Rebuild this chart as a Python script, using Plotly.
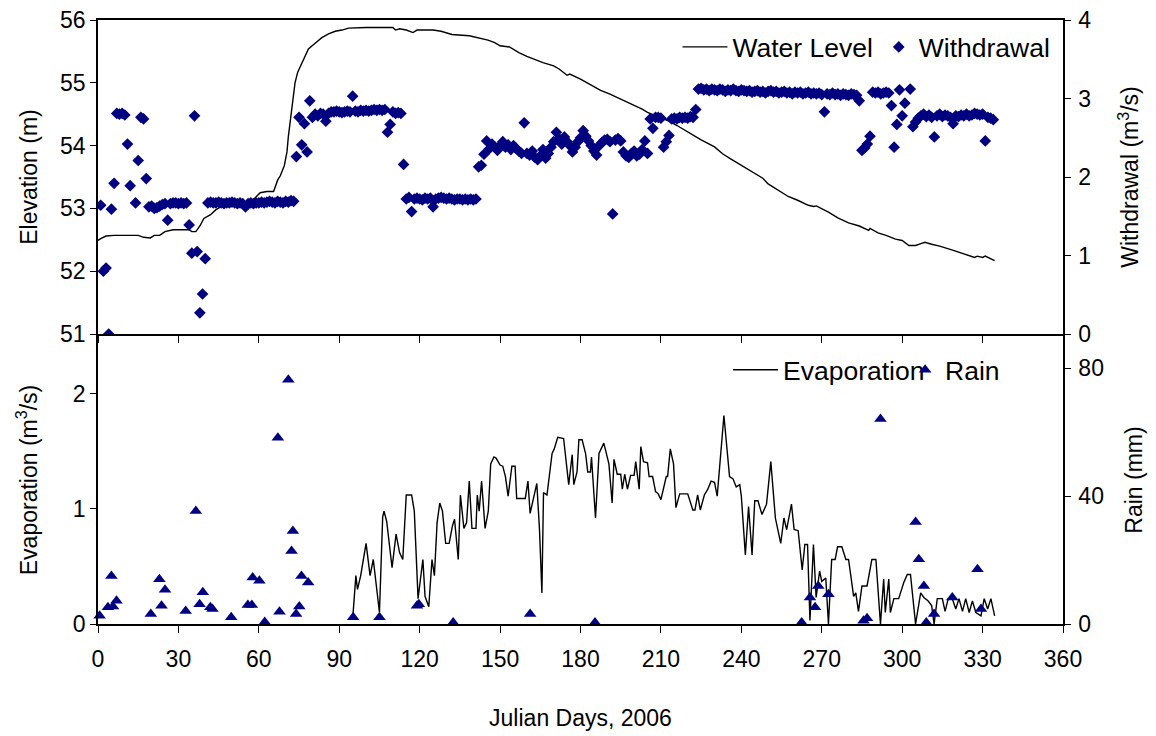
import plotly.graph_objects as go

# ---------------- data ----------------
level_days = [0, 1, 3, 6, 10, 15, 17, 19.5, 21, 23, 25, 28, 31, 34, 35, 36.5, 38, 39.5, 42, 44,
              46, 48, 52, 55, 57, 59, 60.5, 63, 65.5, 67, 68, 69.5, 70.5, 71, 72, 72.5, 73.5, 74.5, 76, 77,
              78.5, 81, 83.5, 86, 88.5, 91, 93.5, 100, 105, 110, 111, 112.5, 115, 117.5, 119, 125, 128, 132, 138.5, 142,
              145.5, 148, 150, 153.5, 157, 160, 163, 166, 170, 172, 175, 176, 180, 184, 187.5, 191, 194, 197, 200, 203,
              205, 209, 212.5, 216, 220, 225, 230, 233, 236, 240, 245, 248, 250, 254, 257.5, 261, 265, 267, 268, 272.5,
              276, 280, 284, 287.5, 288, 291, 294, 297.5, 300, 302.5, 305, 307, 308.5, 311, 314, 318.5, 322, 325, 327, 328,
              330, 331, 333, 334.5]
level_vals = [52.49, 52.52, 52.56, 52.57, 52.57, 52.57, 52.54, 52.53, 52.57, 52.57, 52.63, 52.66, 52.66, 52.66, 52.63, 52.63, 52.72, 52.84, 52.90, 52.98,
              53.03, 53.06, 53.06, 53.07, 53.10, 53.18, 53.25, 53.27, 53.27, 53.45, 53.52, 53.68, 53.90, 54.14, 54.50, 54.65, 55.00, 55.17, 55.32, 55.40,
              55.54, 55.63, 55.72, 55.78, 55.82, 55.84, 55.87, 55.88, 55.88, 55.88, 55.84, 55.86, 55.84, 55.80, 55.84, 55.84, 55.82, 55.77, 55.75, 55.72,
              55.68, 55.64, 55.59, 55.57, 55.48, 55.42, 55.37, 55.32, 55.27, 55.22, 55.12, 55.14, 55.06, 54.97, 54.88, 54.82, 54.76, 54.71, 54.64, 54.58,
              54.53, 54.46, 54.40, 54.32, 54.22, 54.09, 53.98, 53.87, 53.79, 53.69, 53.56, 53.48, 53.39, 53.29, 53.19, 53.13, 53.05, 53.03, 53.04, 52.94,
              52.85, 52.77, 52.72, 52.65, 52.68, 52.61, 52.57, 52.51, 52.49, 52.41, 52.41, 52.44, 52.46, 52.43, 52.40, 52.34, 52.29, 52.24, 52.22, 52.24,
              52.22, 52.24, 52.20, 52.17]

# daily withdrawal (m3/s), day 1 .. 334 (None = no reading)
withdrawal_days = list(range(1, 335))
withdrawal_vals = [
    1.64, 0.80, 0.84, 0.00, 1.59, 1.92, 2.81, 2.80, 2.81, 2.79,          # 1-10
    2.42, 1.89, None, 1.67, 2.21, 2.76, 2.74, 1.98, 1.62, 1.63,          # 11-20
    1.60, 1.61, 1.63, 1.65, 1.66, 1.45, 1.66, 1.67, 1.67, 1.66,          # 21-30
    1.67, 1.66, 1.67, 1.39, 1.03, 2.78, 1.05, 0.27, 0.51, 0.96,          # 31-40
    1.67, 1.68, 1.67, 1.67, 1.68, 1.67, 1.66, 1.67, 1.67, 1.68,          # 41-50
    1.67, 1.66, 1.67, 1.66, 1.62, 1.66, 1.67, 1.66, 1.67, 1.67,          # 51-60
    1.68, 1.67, 1.68, 1.69, 1.68, 1.67, 1.69, 1.68, 1.67, 1.69,          # 61-70
    1.68, 1.70, 1.69, 2.26, 2.76, 2.41, 2.68, 2.32, 2.97, 2.76,          # 71-80
    2.80, 2.78, 2.81, 2.80, 2.71, 2.81, 2.83, 2.83, 2.84, 2.83,          # 81-90
    2.82, 2.83, 2.84, 2.83, 3.03, 2.84, 2.83, 2.85, 2.84, 2.85,          # 91-100
    2.84, 2.85, 2.86, 2.85, 2.86, 2.85, 2.86, 2.57, 2.67, 2.83,          # 101-110
    2.81, 2.82, 2.81, 2.16, 1.72, 1.74, 1.56, 1.72, 1.73, 1.72,          # 111-120
    1.71, 1.73, 1.72, 1.73, 1.62, 1.72, 1.73, 1.74, 1.73, 1.72,          # 121-130
    1.73, 1.72, 1.71, 1.72, 1.72, 1.71, 1.72, 1.71, 1.72, 1.71,          # 131-140
    1.72, 2.13, 2.15, 2.29, 2.46, 2.36, 2.42, 2.38, 2.34, 2.40,          # 141-150
    2.45, 2.38, 2.41, 2.35, 2.40, 2.36, 2.33, 2.30, 2.69, 2.30,          # 151-160
    2.28, 2.33, 2.25, 2.22, 2.27, 2.35, 2.24, 2.30, 2.38, 2.45,          # 161-170
    2.57, 2.49, 2.42, 2.51, 2.45, 2.40, 2.32, 2.38, 2.45, 2.50,          # 171-180
    2.59, 2.52, 2.46, 2.40, 2.33, 2.28, 2.40, 2.44, 2.47, 2.48,          # 181-190
    2.45, 1.53, 2.47, 2.49, 2.46, 2.32, 2.27, 2.25, 2.30, 2.33,          # 191-200
    2.27, 2.29, 2.35, 2.46, 2.30, 2.74, 2.62, 2.76, 2.76, 2.75,          # 201-210
    2.38, 2.45, 2.53, 2.74, 2.75, 2.74, 2.76, 2.75, 2.76, 2.75,          # 211-220
    2.77, 2.76, 2.86, 3.12, 3.13, 3.11, 3.12, 3.10, 3.12, 3.11,          # 221-230
    3.10, 3.12, 3.11, 3.09, 3.11, 3.10, 3.12, 3.10, 3.09, 3.11,          # 231-240
    3.10, 3.09, 3.10, 3.08, 3.09, 3.10, 3.08, 3.09, 3.07, 3.09,          # 241-250
    3.10, 3.08, 3.09, 3.07, 3.08, 3.09, 3.07, 3.08, 3.06, 3.08,          # 251-260
    3.07, 3.08, 3.06, 3.07, 3.08, 3.06, 3.07, 3.06, 3.07, 3.05,          # 261-270
    2.83, 3.06, 3.05, 3.07, 3.05, 3.06, 3.04, 3.06, 3.05, 3.04,          # 271-280
    3.06, 3.05, 3.04, 2.97, 2.34, 2.37, 2.42, 2.52, 3.08, 3.07,          # 281-290
    3.08, 3.06, 3.07, 3.08, 3.07, 2.91, 2.38, 2.67, 3.11, 2.78,          # 291-300
    2.94, None, 3.12, 2.64, 2.70, 2.75, 2.78, 2.80, 2.77, 2.79,          # 301-310
    2.76, 2.51, 2.78, 2.80, 2.77, 2.79, 2.78, 2.76, 2.68, 2.78,          # 311-320
    2.77, 2.79, 2.78, 2.80, 2.78, 2.79, 2.81, 2.80, 2.79, 2.80,          # 321-330
    2.46, 2.76, 2.75, 2.73,                                              # 331-334
]

evap_days = [95, 96.2, 96.8, 98, 100, 101.5, 102.7, 105, 106.2, 106.7, 107.7, 109.7, 111.2, 112.5, 113.7, 115, 117, 118,
             119.4, 121.2, 122, 123.4, 124.6, 125.5, 126.5, 127.5, 128.5, 129.7, 131, 132.2, 133, 134.4, 135.2, 136.5,
             137.5, 138.5, 139.5, 141, 141.5, 142.2, 143.1, 144.4, 145.6, 146.5, 147.7, 148.5, 150, 151, 152, 153,
             154.4, 155.6, 156.2, 159.4, 160.4, 161.2, 163.7, 164.7, 165.6, 166.2, 167.5, 169.4, 170.2, 171.5, 173.7,
             175.6, 176.9, 177.5, 178.7, 179.4, 180.6, 181.9, 182.7, 183.7, 184.1, 185.6, 186.9, 188.7, 190.6, 191.8,
             192.5, 193.7, 195, 195.6, 196.5, 197.5, 198.7, 200, 200.6, 201.9, 202.5, 203.5, 205, 205.6, 206.9, 208,
             209, 210, 212, 212.5, 213.5, 214.7, 215.6, 217, 220, 221.9, 222.7, 223.7, 224.7, 226.2, 227.5, 228.7,
             230, 231, 233.5, 235.6, 236.9, 238.1, 239.4, 240, 241.5, 242.7, 244, 245, 246.2, 247.7, 249.4, 251,
             252.7, 254.7, 255.9, 256.9, 258.7, 259.7, 261.2, 262.7, 263.7, 264.7, 265.6, 266.9, 267.9, 269.2, 270,
             271.5, 272.5, 273.7, 275, 275.9, 277.5, 279, 280, 281.9, 282.7, 283.7, 285, 286.9, 288.7, 290.2, 291.9,
             293.1, 293.7, 295, 295.6, 296.9, 298.7, 300.6, 301.9, 303.1, 305, 306.9, 308.1, 309.7, 311, 311.9, 313.1,
             315, 316, 317.2, 318.7, 320, 321.2, 322.5, 323.7, 325, 326.2, 327.5, 329.4, 330.6, 331.9, 333.1, 334.5]
evap_vals = [0.04, 0.42, 0.30, 0.42, 0.70, 0.42, 0.56, 0.10, 0.93, 0.98, 0.89, 0.49, 0.78, 0.62, 0.56, 1.12, 1.12, 0.98,
             0.22, 0.56, 0.24, 0.15, 0.56, 0.42, 0.88, 1.05, 0.98, 0.70, 0.70, 0.85, 0.91, 0.56, 1.12, 0.83,
             0.88, 1.24, 0.83, 0.83, 1.12, 0.98, 1.24, 0.83, 0.98, 1.39, 1.45, 1.44, 1.38, 1.37, 1.28, 1.11,
             1.37, 1.37, 1.09, 1.09, 1.24, 0.96, 1.22, 0.82, 0.27, 1.14, 1.12, 1.48, 1.52, 1.62, 1.61,
             1.21, 1.47, 1.21, 1.32, 1.60, 1.60, 1.48, 1.32, 1.32, 1.45, 0.92, 1.48, 1.57, 1.39, 1.05,
             1.43, 1.30, 1.30, 1.17, 1.30, 1.17, 1.29, 1.29, 1.41, 1.17, 1.54, 1.41, 1.40, 1.28, 1.28, 1.15,
             1.13, 1.08, 1.28, 1.28, 1.52, 1.39, 1.01, 1.13, 1.13, 0.99, 0.99, 1.12, 0.99, 1.12, 1.17, 1.24,
             1.23, 1.11, 1.81, 1.28, 1.26, 1.19, 1.21, 1.11, 0.60, 1.02, 0.60, 1.07, 1.07, 0.95, 1.04, 1.41,
             0.92, 0.70, 0.92, 0.82, 1.04, 0.82, 0.81, 0.47, 0.69, 0.69, 0.03, 0.69, 0.23, 0.46, 0.37,
             0.40, 0.00, 0.56, 0.56, 0.67, 0.67, 0.56, 0.56, 0.24, 0.27, 0.11, 0.33, 0.33, 0.56, 0.56, 0.00,
             0.39, 0.10, 0.39, 0.10, 0.22, 0.22, 0.36, 0.43, 0.43, 0.00, 0.27, 0.23, 0.20, 0.16, 0.00, 0.22,
             0.22, 0.11, 0.22, 0.22, 0.13, 0.22, 0.11, 0.22, 0.10, 0.20, 0.10, 0.07, 0.22, 0.13, 0.22, 0.07]

rain_days = [0.6, 3.7, 5.6, 5, 6.9, 19.7, 22.9, 25, 23.7, 32.7, 36.5, 37.9, 39.1, 41.9, 42.7, 49.7, 55.9, 57.4,
             57.7, 60.2, 62.2, 67.1, 67.7, 71, 72.2, 72.7, 73.9, 75.1, 75.9, 78.4, 95.2, 105, 119, 119.7, 132.5,
             161.2, 185.4, 262.5, 265.6, 267.5, 268.7, 272.5, 285.6, 286.9, 291.9, 305, 306.2, 308.1, 309, 311.9,
             318.7, 328.1, 329.4]
rain_vals = [2.6, 5.2, 5.5, 15.0, 7.3, 3.1, 14.0, 10.7, 5.7, 4.1, 35.3, 6.2, 9.9, 5.2, 4.7, 2.1, 5.9, 5.9,
             14.5, 13.5, 0.6, 58.2, 3.8, 76.3, 22.8, 29.1, 3.1, 5.5, 15.0, 13.0, 2.1, 2.1, 5.7, 6.2, 0.5,
             3.1, 0.5, 0.5, 8.3, 5.2, 11.9, 9.3, 1.0, 1.8, 64.1, 31.9, 20.2, 11.9, 0.5, 3.1,
             8.3, 17.1, 4.7]

x_ticks = list(range(0, 361, 30))

# ---------------- figure ----------------
FONT = "Liberation Sans, Arial, Helvetica, sans-serif"
NAVY = "#000080"

fig = go.Figure()
fig.add_trace(go.Scatter(x=level_days, y=level_vals, mode="lines", name="Water Level",
                         line=dict(color="black", width=1.4), xaxis="x", yaxis="y", legend="legend"))
fig.add_trace(go.Scatter(x=withdrawal_days, y=withdrawal_vals, mode="markers", name="Withdrawal",
                         marker=dict(symbol="diamond", size=9, color=NAVY),
                         xaxis="x", yaxis="y2", legend="legend2"))
fig.add_trace(go.Scatter(x=evap_days, y=evap_vals, mode="lines", name="Evaporation",
                         line=dict(color="black", width=1.4), xaxis="x2", yaxis="y3", legend="legend3"))
fig.add_trace(go.Scatter(x=rain_days, y=rain_vals, mode="markers", name="Rain",
                         marker=dict(symbol="triangle-up", size=11, color=NAVY),
                         xaxis="x2", yaxis="y4", legend="legend4", cliponaxis=False))


def axis(**kw):
    base = dict(showline=True, linecolor="black", linewidth=1.5, ticks="outside",
                tickcolor="black", ticklen=6, showgrid=False, zeroline=False, automargin=False,
                tickfont=dict(size=23, color="black", family=FONT))
    base.update(kw)
    return base


def legend(x, y, iw):
    return dict(orientation="h", x=x, xanchor="right", y=y, yanchor="middle",
                bgcolor="rgba(0,0,0,0)", font=dict(size=26.5, color="black", family=FONT),
                itemwidth=iw, tracegroupgap=0)


top_dom = [0.4801, 1.0]
bot_dom = [0.0, 0.4768]

fig.update_layout(
    width=1156, height=736,
    margin=dict(l=98, r=93, t=20, b=112),
    paper_bgcolor="white", plot_bgcolor="white",
    font=dict(family=FONT, color="black", size=23),
    showlegend=True,
    xaxis=axis(domain=[0, 1], range=[0, 360], tickvals=x_ticks, ticklen=7,
               showticklabels=False, mirror=True, anchor="y"),
    yaxis=axis(domain=top_dom, range=[51, 56], dtick=1, anchor="x",
               title=dict(text="Elevation (m)", font=dict(size=23), standoff=16)),
    yaxis2=axis(domain=top_dom, range=[0, 4], dtick=1, overlaying="y",
                side="right", anchor="x", ticklabelstandoff=3,
                title=dict(text="Withdrawal (m<sup>3</sup>/s)", font=dict(size=23), standoff=32)),
    xaxis2=axis(domain=[0, 1], range=[0, 360], tickvals=x_ticks, mirror=True,
                anchor="y3", ticklen=7, ticklabelstandoff=7,
                title=dict(text="Julian Days, 2006", font=dict(size=23), standoff=39)),
    yaxis3=axis(domain=bot_dom, range=[0, 2.5], tickvals=[0, 1, 2], anchor="x2",
                title=dict(text="Evaporation (m<sup>3</sup>/s)", font=dict(size=23), standoff=29)),
    yaxis4=axis(domain=bot_dom, range=[0, 90], tickvals=[0, 40, 80], overlaying="y3",
                side="right", anchor="x2", ticklabelstandoff=3,
                title=dict(text="Rain (mm)", font=dict(size=23), standoff=23)),
    legend=legend(0.8088, 0.955, 45),
    legend2=legend(0.9925, 0.955, 30),
    legend3=legend(0.8622, 0.4205, 45),
    legend4=legend(0.94, 0.4205, 30),
)

fig.write_html("out.html")
